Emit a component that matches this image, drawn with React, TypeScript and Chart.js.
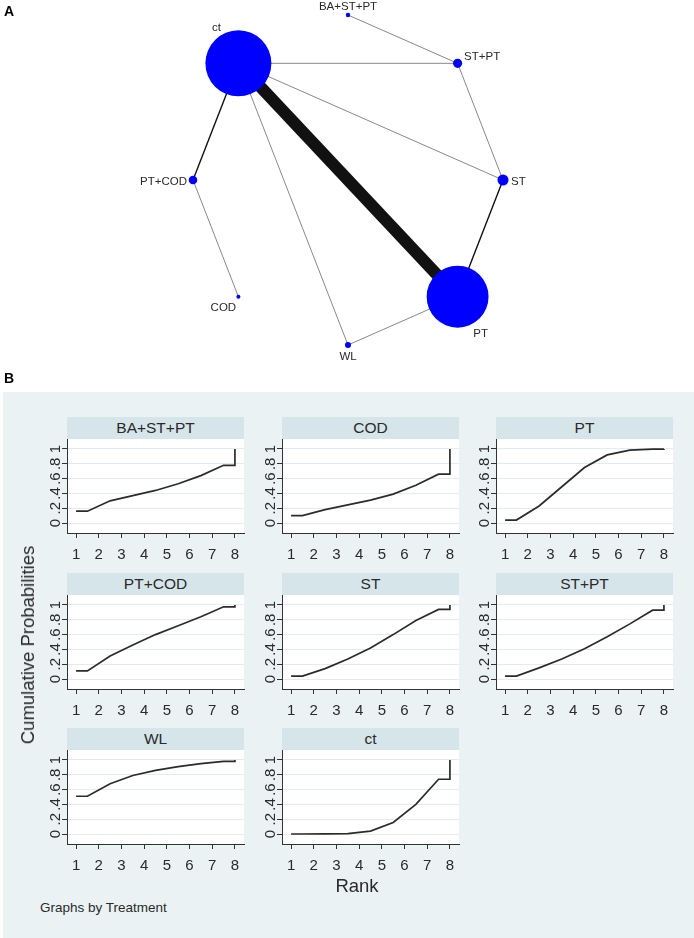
import React, { useEffect, useRef } from 'react';
import { Chart, registerables } from 'chart.js';

Chart.register(...registerables);

const FONT = '"Liberation Sans", Arial, Helvetica, sans-serif';

// ---------------- Panel A: network data ----------------
const nodeNames = ['BA+ST+PT', 'ST+PT', 'ST', 'PT', 'WL', 'COD', 'PT+COD', 'ct'];
// slot on the circular layout: 0 = top, then clockwise
const nodeSlot = [0, 1, 2, 3, 4, 5, 6, 7];
// relative node weight (sample size)
const nodeWeight = [0.45, 1.9, 2.8, 88, 0.85, 0.37, 1.7, 100];
const edgeFrom = ['ct', 'ct', 'ct', 'ct', 'ct', 'BA+ST+PT', 'ST+PT', 'ST', 'PT', 'PT+COD'];
const edgeTo = ['PT', 'ST+PT', 'ST', 'WL', 'PT+COD', 'ST+PT', 'ST', 'PT', 'WL', 'COD'];
const edgeWeight = [12, 1, 1, 1, 2, 1, 1, 2, 1, 1];

// ---------------- Panel B: cumulative ranking data ----------------
const treatments = ['BA+ST+PT', 'COD', 'PT', 'PT+COD', 'ST', 'ST+PT', 'WL', 'ct'];
const rankX = [1, 1.5, 2.5, 3.5, 4.5, 5.5, 6.5, 7.5, 8, 8];
const cumBASTPT = [0.16, 0.16, 0.3, 0.37, 0.44, 0.53, 0.64, 0.78, 0.78, 1];
const cumCOD = [0.1, 0.1, 0.18, 0.245, 0.31, 0.39, 0.51, 0.66, 0.66, 1];
const cumPT = [0.04, 0.04, 0.23, 0.49, 0.75, 0.92, 0.985, 0.998, 0.998, 1];
const cumPTCOD = [0.11, 0.11, 0.31, 0.46, 0.6, 0.72, 0.84, 0.975, 0.975, 1];
const cumST = [0.04, 0.04, 0.14, 0.27, 0.42, 0.6, 0.79, 0.94, 0.94, 1];
const cumSTPT = [0.04, 0.04, 0.15, 0.27, 0.41, 0.57, 0.745, 0.93, 0.93, 1];
const cumWL = [0.51, 0.51, 0.68, 0.79, 0.86, 0.91, 0.95, 0.98, 0.98, 1];
const cumCt = [0, 0, 0.001, 0.005, 0.04, 0.155, 0.4, 0.74, 0.74, 1];
const seriesList = [cumBASTPT, cumCOD, cumPT, cumPTCOD, cumST, cumSTPT, cumWL, cumCt];
const xTickValues = [1, 2, 3, 4, 5, 6, 7, 8];
const yTickValues = [0, 0.2, 0.4, 0.6, 0.8, 1];
const yTickLabels = ['0', '.2', '.4', '.6', '.8', '1'];

// ---------------- layout / style ----------------
// network chart area covers page box [0, NET_W] x [0, NET_H];
// the canvas is enlarged by NET_PAD on every side so nodes near the edge still draw
const NET_W = 694;
const NET_H = 370;
const NET_CX = 348;
const NET_CY = 180;
const NET_RX = 155;
const NET_RY = 165;
const NET_PAD = 40;
const NODE_MAX_R = 33;
const labelStyle: Record<string, { dx: number; dy: number; align: CanvasTextAlign }> = {
  'BA+ST+PT': { dx: 0, dy: -8, align: 'center' },
  'ST+PT': { dx: 6.5, dy: -6, align: 'left' },
  ST: { dx: 8, dy: 2, align: 'left' },
  PT: { dx: 23, dy: 37, align: 'center' },
  WL: { dx: 0, dy: 12, align: 'center' },
  COD: { dx: -15, dy: 11, align: 'center' },
  'PT+COD': { dx: -6, dy: 2, align: 'right' },
  ct: { dx: -22, dy: -35, align: 'center' },
};

const COL_LEFT = [67, 282, 496];
const ROW_TOP = [417, 572.5, 728];
const PLOT_W = 177;
const HEAD_H = 22;
const PLOT_H = 94;
const YAX_W = 34;
const XAX_H = 36;
const PAD_R = 6;

const BG = '#eaf2f3';
const HEAD_BG = '#d6e5ea';
const TEXT = '#2a2a2a';

function nodePos(name: string) {
  const i = nodeNames.indexOf(name);
  const ang = Math.PI / 2 - (nodeSlot[i] * Math.PI) / 4;
  return { x: Math.cos(ang), y: Math.sin(ang) };
}

const netLabels = {
  id: 'netLabels',
  afterDatasetsDraw(chart: any) {
    const { ctx, scales } = chart;
    ctx.save();
    ctx.font = `11.5px ${FONT}`;
    ctx.fillStyle = TEXT;
    ctx.textBaseline = 'middle';
    nodeNames.forEach((n) => {
      const p = nodePos(n);
      const st = labelStyle[n];
      const px = scales.x.getPixelForValue(p.x);
      const py = scales.y.getPixelForValue(p.y);
      ctx.textAlign = st.align;
      ctx.fillText(n, px + st.dx, py + st.dy);
    });
    ctx.restore();
  },
};

function NetworkChart() {
  const ref = useRef<HTMLCanvasElement>(null);
  const CW = NET_W + 2 * NET_PAD;
  const CH = NET_H + 2 * NET_PAD;
  useEffect(() => {
    const wMax = Math.max(...nodeWeight);
    const edgeSets = edgeFrom.map((f, i) => {
      const a = nodePos(f);
      const b = nodePos(edgeTo[i]);
      const w = edgeWeight[i];
      return {
        type: 'scatter' as const,
        data: [a, b],
        showLine: true,
        borderColor: w >= 2 ? '#111' : '#7a7a7a',
        borderWidth: w >= 12 ? 12 : w >= 2 ? 1.4 : 0.9,
        pointRadius: 0,
        clip: false,
        order: 2,
      };
    });
    const nodeSet = {
      type: 'bubble' as const,
      data: nodeNames.map((n, i) => ({ ...nodePos(n), r: NODE_MAX_R * Math.sqrt(nodeWeight[i] / wMax) })),
      backgroundColor: '#0000ff',
      borderWidth: 0,
      clip: false,
      order: 1,
    };
    const chart = new Chart(ref.current!, {
      type: 'scatter',
      data: { datasets: [nodeSet as any, ...edgeSets] },
      options: {
        animation: false,
        responsive: false,
        events: [],
        layout: { padding: NET_PAD },
        plugins: { legend: { display: false }, tooltip: { enabled: false } },
        scales: {
          x: { type: 'linear', display: false, min: -NET_CX / NET_RX, max: (NET_W - NET_CX) / NET_RX },
          y: { type: 'linear', display: false, min: -(NET_H - NET_CY) / NET_RY, max: NET_CY / NET_RY },
        },
      },
      plugins: [netLabels],
    });
    return () => chart.destroy();
  }, []);
  return (
    <canvas
      ref={ref}
      width={CW}
      height={CH}
      style={{ position: 'absolute', left: -NET_PAD, top: -NET_PAD, width: CW, height: CH }}
    />
  );
}

const plotBg = {
  id: 'plotBg',
  beforeDraw(chart: any) {
    const { ctx, chartArea } = chart;
    ctx.save();
    ctx.fillStyle = '#ffffff';
    ctx.fillRect(chartArea.left, chartArea.top, chartArea.right - chartArea.left, chartArea.bottom - chartArea.top);
    ctx.restore();
  },
};

function RankChart({ values, left, top }: { values: number[]; left: number; top: number }) {
  const ref = useRef<HTMLCanvasElement>(null);
  const W = YAX_W + PLOT_W + PAD_R;
  const H = PLOT_H + XAX_H;
  useEffect(() => {
    const chart = new Chart(ref.current!, {
      type: 'scatter',
      data: {
        datasets: [
          {
            data: rankX.map((x, i) => ({ x, y: values[i] })),
            showLine: true,
            borderColor: '#2b2b2b',
            borderWidth: 1.7,
            pointRadius: 0,
            tension: 0,
          },
        ],
      },
      options: {
        animation: false,
        responsive: false,
        events: [],
        layout: { padding: { left: 0, right: PAD_R, top: 0, bottom: 0 } },
        plugins: { legend: { display: false }, tooltip: { enabled: false } },
        scales: {
          x: {
            type: 'linear',
            min: 0.6,
            max: 8.4,
            afterBuildTicks: (s: any) => {
              s.ticks = xTickValues.map((v) => ({ value: v }));
            },
            afterFit: (s: any) => {
              s.height = XAX_H;
              s.paddingLeft = 0;
              s.paddingRight = 0;
            },
            grid: { drawOnChartArea: false, drawTicks: true, tickLength: 5, tickColor: '#333', tickWidth: 1 },
            border: { display: true, color: '#333', width: 1 },
            ticks: {
              font: { family: FONT, size: 15 },
              color: TEXT,
              padding: 8,
              minRotation: 0,
              maxRotation: 0,
              autoSkip: false,
            },
          },
          y: {
            type: 'linear',
            min: -0.135,
            max: 1.135,
            afterBuildTicks: (s: any) => {
              s.ticks = yTickValues.map((v) => ({ value: v }));
            },
            afterFit: (s: any) => {
              s.width = YAX_W;
              s.paddingTop = 0;
              s.paddingBottom = 0;
            },
            grid: { color: '#e3ecef', lineWidth: 1, drawTicks: true, tickLength: 5, tickColor: '#333', tickWidth: 1 },
            border: { display: true, color: '#333', width: 1 },
            ticks: {
              font: { family: FONT, size: 15 },
              color: TEXT,
              padding: 0,
              minRotation: 90,
              maxRotation: 90,
              crossAlign: 'center',
              autoSkip: false,
              callback: (v: any) => {
                const k = yTickValues.findIndex((t) => Math.abs(t - Number(v)) < 1e-9);
                return k >= 0 ? yTickLabels[k] : '';
              },
            },
          },
        },
      },
      plugins: [plotBg],
    });
    return () => chart.destroy();
  }, [values]);
  return (
    <canvas
      ref={ref}
      width={W}
      height={H}
      style={{ position: 'absolute', left, top, width: W, height: H }}
    />
  );
}

export default function App() {
  return (
    <div
      style={{
        position: 'absolute',
        left: 0,
        top: 0,
        width: 694,
        height: 938,
        background: '#ffffff',
        fontFamily: FONT,
        color: TEXT,
        overflow: 'hidden',
      }}
    >
      <NetworkChart />
      <div style={{ position: 'absolute', left: 4, top: 3, fontSize: 14, fontWeight: 'bold', color: '#000' }}>A</div>
      <div style={{ position: 'absolute', left: 3, top: 392, width: 691, height: 546, background: BG }} />
      <div style={{ position: 'absolute', left: 4, top: 370, fontSize: 14, fontWeight: 'bold', color: '#000' }}>B</div>
      {treatments.map((t, i) => {
        const col = i % 3;
        const row = Math.floor(i / 3);
        const left = COL_LEFT[col];
        const top = ROW_TOP[row];
        return (
          <React.Fragment key={t}>
            <div
              style={{
                position: 'absolute',
                left,
                top,
                width: PLOT_W,
                height: HEAD_H,
                background: HEAD_BG,
                display: 'flex',
                alignItems: 'center',
                justifyContent: 'center',
                fontSize: 15.5,
                color: TEXT,
              }}
            >
              {t}
            </div>
            <RankChart values={seriesList[i]} left={left - YAX_W} top={top + HEAD_H} />
          </React.Fragment>
        );
      })}
      <div
        style={{
          position: 'absolute',
          left: 28,
          top: 645,
          transform: 'translate(-50%, -50%) rotate(-90deg)',
          whiteSpace: 'nowrap',
          fontSize: 18.5,
          color: TEXT,
        }}
      >
        Cumulative Probabilities
      </div>
      <div
        style={{
          position: 'absolute',
          left: 357,
          top: 886,
          transform: 'translate(-50%, -50%)',
          whiteSpace: 'nowrap',
          fontSize: 18.5,
          color: TEXT,
        }}
      >
        Rank
      </div>
      <div
        style={{
          position: 'absolute',
          left: 40,
          top: 907,
          transform: 'translateY(-50%)',
          whiteSpace: 'nowrap',
          fontSize: 13.5,
          color: TEXT,
        }}
      >
        Graphs by Treatment
      </div>
    </div>
  );
}
